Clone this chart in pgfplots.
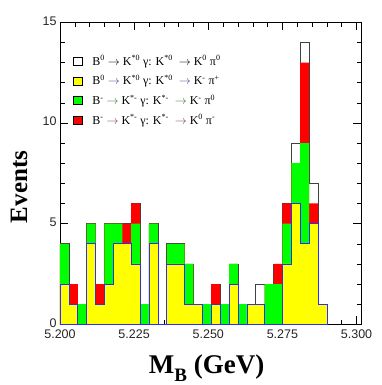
\documentclass[border=0pt]{standalone}
\usepackage{fontspec}
\setmainfont{Liberation Serif}
\setsansfont{Liberation Sans}
\usepackage{pgfplots}
\pgfplotsset{compat=1.18}
\usepackage{pgfplotstable}

\definecolor{histyel}{RGB}{255,255,0}
\definecolor{histgrn}{RGB}{0,255,0}
\definecolor{histred}{RGB}{255,0,0}
\definecolor{yelline}{RGB}{45,45,255}
\definecolor{arrblue}{RGB}{70,70,150}
\definecolor{arrgrn}{RGB}{60,120,60}
\definecolor{arrred}{RGB}{120,70,70}

% bin left edges (width 0.003 GeV); stacked top edges
% y = yellow, yg = yellow+green, ygr = +red, tot = all four modes
\pgfplotstableread{
x      y   yg  ygr  tot
5.200  2   4   4    4
5.203  1   1   2    2
5.206  0   1   1    1
5.209  4   5   5    5
5.212  1   1   2    2
5.215  2   5   5    5
5.218  4   5   5    5
5.221  4   4   5    5
5.224  3   5   6    6
5.227  0   1   1    1
5.230  4   5   5    5
5.233  0   0   0    0
5.236  3   4   4    4
5.239  3   4   4    4
5.242  1   3   3    3
5.245  1   1   1    1
5.248  0   1   1    1
5.251  1   1   2    2
5.254  0   1   1    1
5.257  2   3   3    3
5.260  0   1   1    1
5.263  1   1   1    1
5.266  1   1   1    2
5.269  0   2   2    2
5.272  0   2   3    3
5.275  3   5   6    6
5.278  6   8   8    9
5.281  4   9   13   14
5.284  5   5   6    7
5.287  1   1   1    1
5.290  0   0   0    0
}\mbdata

\newcommand{\lgap}{\hspace*{8pt}}

\begin{document}
\begin{tikzpicture}
\useasboundingbox (-60pt,-60.7pt) rectangle (322pt,324.3pt);
\begin{axis}[
  scale only axis,
  clip mode=individual,
  width=301pt, height=302pt,
  xmin=5.2, xmax=5.3015,
  ymin=0, ymax=15,
  xtick={5.200,5.225,5.250,5.275,5.300},
  ytick={0,5,10,15},
  minor x tick num=4,
  minor y tick num=4,
  tick align=inside,
  major tick length=8pt,
  minor tick length=4.5pt,
  axis line style={line width=0.8pt},
  every tick/.style={black, line width=0.5pt},
  tick label style={font=\fontsize{12.5}{14}\selectfont\sffamily, text=black!85},
  /pgf/number format/assume math mode=true,
  xticklabel style={yshift=-2pt, /pgf/number format/.cd, fixed, fixed zerofill, precision=3},
  yticklabel style={yshift=1.5pt, /pgf/number format/.cd, fixed, precision=0},
  legend image code/.code={
    \draw[#1, draw=black, line width=0.5pt] (0pt,-4pt) rectangle (8.4pt,4pt);
  },
  legend cell align=left,
  legend style={at={(axis description cs:0.044,0.897)}, anchor=north west,
    draw=none, fill=none, inner sep=0pt,
    font=\fontsize{12}{13}\selectfont, row sep=4.5pt},
]
\addlegendimage{fill=white}
\addlegendentry{\lgap B\textsuperscript{0} $\rightarrow$ K\textsuperscript{*0}\ γ: K\textsuperscript{*0}\ \ $\rightarrow$ K\textsuperscript{0} π\textsuperscript{0}}
\addlegendimage{fill=histyel}
\addlegendentry{\lgap B\textsuperscript{0} \textcolor{arrblue}{$\rightarrow$} K\textsuperscript{*0}\ γ: K\textsuperscript{*0}\ \ \textcolor{arrblue}{$\rightarrow$} K\textsuperscript{-} π\textsuperscript{+}}
\addlegendimage{fill=histgrn}
\addlegendentry{\lgap B\textsuperscript{-} \textcolor{arrgrn}{$\rightarrow$} K\textsuperscript{*-}\ γ: K\textsuperscript{*-}\ \ \textcolor{arrgrn}{$\rightarrow$} K\textsuperscript{-} π\textsuperscript{0}}
\addlegendimage{fill=histred}
\addlegendentry{\lgap B\textsuperscript{-} \textcolor{arrred}{$\rightarrow$} K\textsuperscript{*-}\ γ: K\textsuperscript{*-}\ \ \textcolor{arrred}{$\rightarrow$} K\textsuperscript{0} π\textsuperscript{-}}

\addplot[const plot mark left, fill=white, draw=black!75, line width=0.6pt, forget plot]
  table[x=x, y=tot] {\mbdata} \closedcycle;
\addplot[const plot mark left, fill=histred, draw=none, forget plot]
  table[x=x, y=ygr] {\mbdata} \closedcycle;
\addplot[const plot mark left, fill=histgrn, draw=none, forget plot]
  table[x=x, y=yg] {\mbdata} \closedcycle;
\addplot[const plot mark left, fill=histyel, draw=yelline, line width=0.6pt, forget plot]
  table[x=x, y=y] {\mbdata} \closedcycle;

\node[rotate=90, font=\fontsize{25}{28}\selectfont\bfseries]
  at (axis description cs:-0.136,0.455) {Events};
\node[anchor=base, font=\fontsize{27}{30}\selectfont\bfseries]
  at (axis description cs:0.487,-0.163) {M\raisebox{-0.28em}{\fontsize{19}{20}\selectfont B} (GeV)};
\end{axis}
\end{tikzpicture}
\end{document}
